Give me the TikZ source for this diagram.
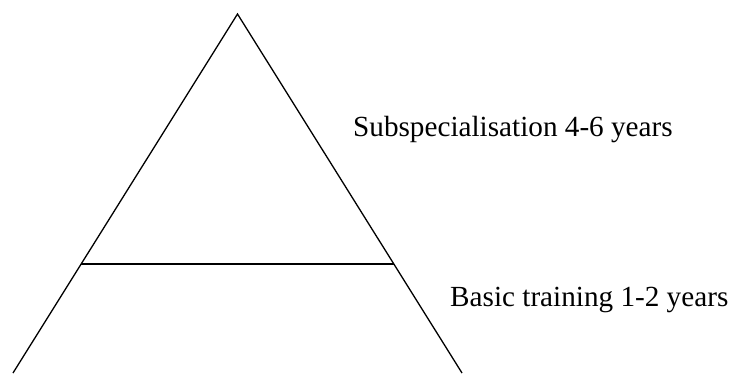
\documentclass[tikz,border=0pt]{standalone}
\usepackage{fontspec}
\setmainfont{Liberation Serif}
\usetikzlibrary{calc}
\begin{document}
\begin{tikzpicture}[x=1pt,y=-1pt,
  edge/.style={draw=black,line width=1.3pt},
  label/.style={inner sep=0pt,anchor=base west,font=\fontsize{29.2}{35}\selectfont}]
\useasboundingbox (0,0) rectangle (729,373);
\coordinate (apex) at (237.5,14);
\coordinate (bl) at (13,373);
\coordinate (br) at (462,373);
\coordinate (ml) at ($(apex)!0.6964!(bl)$);
\coordinate (mr) at ($(apex)!0.6964!(br)$);
\draw[edge] (bl) -- (apex) -- (br);
\draw[edge] (ml) -- (mr);
\node[label] (sub) at (353,136) {Subspecialisation 4-6 years};
\node[label] (basic) at (450,306.5) {Basic training 1-2 years};
\end{tikzpicture}
\end{document}
